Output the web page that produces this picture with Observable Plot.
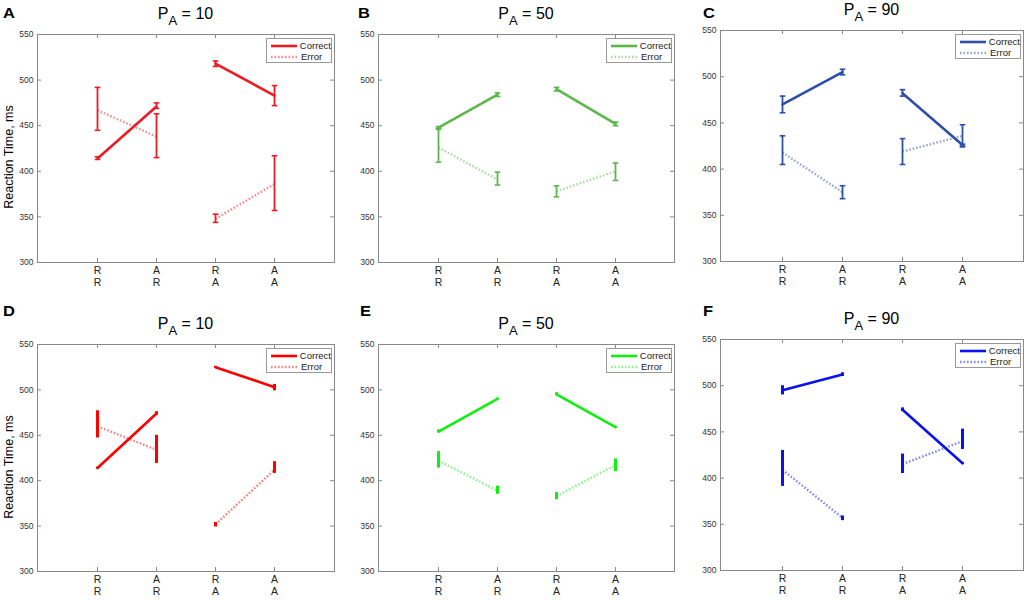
<!DOCTYPE html>
<html><head><meta charset="utf-8">
<script src="https://cdn.jsdelivr.net/npm/d3@7"></script>
<script src="https://cdn.jsdelivr.net/npm/@observablehq/plot@0.6"></script>
<style>
body{margin:0;background:#fff;font-family:"Liberation Sans",Arial,Helvetica,sans-serif;}
#wrap{position:relative;width:1028px;height:600px;overflow:hidden;}
.abs{position:absolute;white-space:nowrap;}
.ttl{font-size:16px;color:#000;line-height:18px;}
.ttl span{font-size:13px;position:relative;top:6px;}
.let{font-size:15px;font-weight:bold;color:#000;line-height:16px;transform:scaleX(1.1);transform-origin:left top;}
.ylab{font-size:12.5px;color:#000;transform:translate(-50%,-50%) rotate(-90deg);}
.leg{border:1px solid #999;background:#fff;font-size:9.5px;color:#222;box-sizing:border-box;padding:1px 0 0 4px;}
.leg div{height:11px;line-height:11px;display:flex;align-items:center;}
.leg svg{margin-right:3px;}
</style>
</head><body><div id="wrap"></div>
<script>
const conditions = ["RR", "AR", "RA", "AA"];
const panelLetters = ["A", "B", "C", "D", "E", "F"];
const pAValues = [10, 50, 90, 10, 50, 90];
const yTicks = [300, 350, 400, 450, 500, 550];

const correctMean = [[414,471,518,483],[448,484,490,452],[470,505,482,426],[414,474,525,503],[454,490,495,459],[495,512,474,416]];
const correctLo   = [[413,469,515,472],[446,482,488,450],[461,502,479,424],[413,472,524,499],[453,489,494,458],[490,510,472,415]];
const correctHi   = [[416,475,521,494],[449,486,492,454],[479,508,486,427],[415,476,526,506],[456,491,497,460],[500,514,476,417]];
const errorMean   = [[467,438,348,386],[426,391,378,400],[418,375,419,436],[460,434,352,412],[422,389,383,417],[409,357,415,440]];
const errorLo     = [[445,415,344,357],[410,385,372,390],[405,368,405,425],[447,419,349,408],[414,385,379,410],[391,354,405,431]];
const errorHi     = [[492,463,353,417],[447,399,384,409],[436,382,433,448],[477,450,354,421],[432,394,387,424],[430,359,426,453]];

const panelColors = ["#ec1c24", "#5cb848", "#2e4fa8", "#ff0000", "#11ee11", "#0a10f0"];

const layout = [
  {sx: 0,   sy: 0,   w: 340, left: 37,  right: 334,  top: 34,  bottom: 262, lx: 3,   ly: 5},
  {sx: 340, sy: 0,   w: 340, left: 378, right: 674,  top: 34,  bottom: 262, lx: 358, ly: 5},
  {sx: 680, sy: 0,   w: 348, left: 720, right: 1023, top: 30,  bottom: 261, lx: 703, ly: 5},
  {sx: 0,   sy: 300, w: 340, left: 37,  right: 334,  top: 344, bottom: 571, lx: 3,   ly: 303},
  {sx: 340, sy: 300, w: 340, left: 378, right: 674,  top: 344, bottom: 571, lx: 360, ly: 303},
  {sx: 680, sy: 300, w: 348, left: 720, right: 1023, top: 339, bottom: 570, lx: 703, ly: 303}
];

const capSymbol = {
  draw(context, size) {
    const w = Math.sqrt(size / Math.PI);
    context.moveTo(-w, 0);
    context.lineTo(w, 0);
  }
};

const wrap = document.getElementById("wrap");
const gray = "#888";

function addDiv(cls, html, style) {
  const d = document.createElement("div");
  d.className = "abs " + cls;
  d.innerHTML = html;
  Object.assign(d.style, style);
  wrap.appendChild(d);
  return d;
}

panelLetters.forEach((letter, i) => {
  const L = layout[i];
  const color = panelColors[i];
  const bottomRow = i >= 3;
  const plotW = L.right - L.left, plotH = L.bottom - L.top;
  const correct = conditions.map((c, j) => ({cond: c, pair: c[1], mean: correctMean[i][j], lo: correctLo[i][j], hi: correctHi[i][j]}));
  const error = conditions.map((c, j) => ({cond: c, pair: c[1], mean: errorMean[i][j], lo: errorLo[i][j], hi: errorHi[i][j]}));
  const barWidth = bottomRow ? 3 : 1.8;

  const marks = [
    Plot.frame({stroke: gray}),
    Plot.tickY(yTicks, {y: d => d, insetRight: plotW - 4, stroke: gray}),
    Plot.tickY(yTicks, {y: d => d, insetLeft: plotW - 4, stroke: gray}),
    Plot.tickX(conditions, {x: d => d, insetTop: plotH - 4, stroke: gray}),
    Plot.tickX(conditions, {x: d => d, insetBottom: plotH - 4, stroke: gray}),
    Plot.axisY({ticks: yTicks, tickSize: 0, tickPadding: 4, fontSize: 8.5, fill: "#333", label: null}),
    Plot.axisX({tickSize: 0, tickPadding: 3, fontSize: 10.5, fill: "#222", tickFormat: d => d[0] + "\n" + d[1], lineHeight: 1.15, label: null}),
    Plot.line(error, {x: "cond", y: "mean", z: "pair", stroke: color, strokeWidth: 2.4, strokeOpacity: 0.5, strokeDasharray: "1.6,1.9", strokeLinecap: "butt"}),
    Plot.ruleX(error, {x: "cond", y1: "lo", y2: "hi", stroke: color, strokeWidth: barWidth}),
    Plot.ruleX(correct, {x: "cond", y1: "lo", y2: "hi", stroke: color, strokeWidth: barWidth}),
    Plot.line(correct, {x: "cond", y: "mean", z: "pair", stroke: color, strokeWidth: 2.6})
  ];
  if (!bottomRow) {
    for (const series of [error, correct]) {
      marks.push(Plot.dot(series, {x: "cond", y: "lo", r: 2.8, symbol: capSymbol, stroke: color, strokeWidth: 1.6, fill: "none"}));
      marks.push(Plot.dot(series, {x: "cond", y: "hi", r: 2.8, symbol: capSymbol, stroke: color, strokeWidth: 1.6, fill: "none"}));
    }
  }

  const chart = Plot.plot({
    width: L.w,
    height: 300,
    marginLeft: L.left - L.sx,
    marginRight: L.sx + L.w - L.right,
    marginTop: L.top - L.sy,
    marginBottom: L.sy + 300 - L.bottom,
    style: {fontFamily: '"Liberation Sans", Arial, sans-serif', background: "transparent", overflow: "visible"},
    x: {type: "point", domain: conditions, padding: 1},
    y: {domain: [300, 550]},
    marks
  });
  chart.style.position = "absolute";
  chart.style.left = L.sx + "px";
  chart.style.top = L.sy + "px";
  wrap.appendChild(chart);

  const t = addDiv("ttl", `P<span>A</span> = ${pAValues[i]}`, {top: (L.top - 29) + "px"});
  t.style.left = ((L.left + L.right) / 2) + "px";
  t.style.transform = "translateX(-50%)";
  addDiv("let", letter, {left: L.lx + "px", top: L.ly + "px"});
  if (i % 3 === 0) {
    addDiv("ylab", "Reaction Time, ms", {left: "9px", top: ((L.top + L.bottom) / 2 + 9) + "px"});
  }
  const legHtml = `
    <div><svg width="27" height="6"><line x1="0" x2="27" y1="3" y2="3" stroke="${color}" stroke-width="2.6"/></svg>Correct</div>
    <div><svg width="27" height="6"><line x1="0" x2="27" y1="3" y2="3" stroke="${color}" stroke-opacity="0.5" stroke-width="2.4" stroke-dasharray="1.6,1.9"/></svg>Error</div>`;
  addDiv("leg", legHtml, {left: (L.right - 68) + "px", top: (L.top + 4) + "px", width: "66px", height: "25px"});
});
</script>
</body></html>
